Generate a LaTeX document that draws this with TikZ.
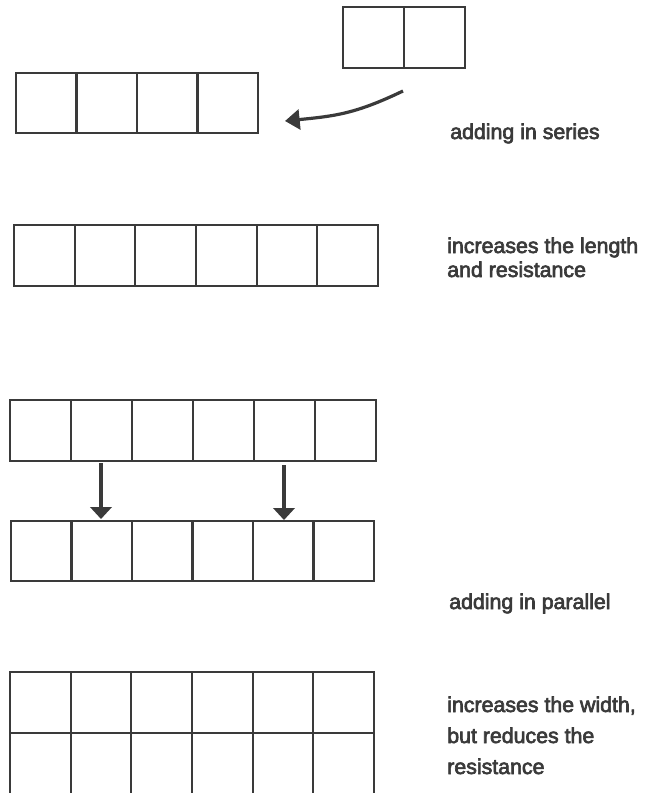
\documentclass[tikz,border=0pt]{standalone}
\usepackage{fontspec}
\setmainfont{Liberation Sans}
\newfontfamily\capfont[FakeBold=3]{Liberation Sans}
\usetikzlibrary{arrows.meta}
\definecolor{ink}{HTML}{3A3A3A}

% draw a strip of #6 equal cells between (#2,#3) and (#4,#5), named #1
\newcommand\cellstrip[6]{%
  \coordinate (#1-nw) at (#2,#3);
  \coordinate (#1-se) at (#4,#5);
  \draw[cellline] (#1-nw) rectangle (#1-se);
  \pgfmathtruncatemacro\lastdiv{#6-1}
  \foreach \k in {1,...,\lastdiv}{%
    \draw[cellline] ({#2+\k*(#4-#2)/#6},#3) -- ({#2+\k*(#4-#2)/#6},#5);
  }%
}

\tikzset{
  cellline/.style={draw=ink, line width=1.6pt, line join=miter},
  pusharrow/.style={draw=ink, line width=2.4pt,
    -{Triangle[length=11pt,width=15pt]}},
  droparrow/.style={draw=ink, line width=2.4pt,
    -{Triangle[length=9pt,width=16pt]}},
  caption/.style={anchor=base west, inner sep=0pt, text=ink,
    font=\capfont\fontsize{16}{24}\selectfont},
}

\begin{document}
\begin{tikzpicture}[x=0.75pt, y=-0.75pt]
  \useasboundingbox (0,0) rectangle (655,793);
  \clip (0,0) rectangle (655,793);

  % series: two cells joined onto a row of four
  \cellstrip{pair}{343}{7}{465}{68}{2}
  \cellstrip{four}{16}{73}{258}{133}{4}
  \coordinate (bend-from) at (403,91);
  \coordinate (bend-to) at (285,121);
  \draw[pusharrow] (bend-from) .. controls (355,114) and (335,116) .. (bend-to);
  \node[caption] (series) at (450,139) {adding in series};

  % result: a row of six
  \cellstrip{six}{14}{225}{378}{286}{6}
  \node[caption] (length1) at (447,253) {increases the length};
  \node[caption] (length2) at (447,277) {and resistance};

  % parallel: one row of six laid onto another
  \cellstrip{upper}{10}{400}{376}{461}{6}
  \cellstrip{lower}{11}{521}{374}{581}{6}
  \coordinate (dropA-from) at (101,463);
  \coordinate (dropA-to) at (101,519);
  \coordinate (dropB-from) at (284,465);
  \coordinate (dropB-to) at (284,520);
  \draw[droparrow] (dropA-from) -- (dropA-to);
  \draw[droparrow] (dropB-from) -- (dropB-to);
  \node[caption] (parallel) at (449,609) {adding in parallel};

  % result: two rows of six
  \cellstrip{double1}{10}{672}{374}{733}{6}
  \cellstrip{double2}{10}{733}{374}{800}{6}
  \node[caption] (width1) at (447,712) {increases the width,};
  \node[caption] (width2) at (447,743) {but reduces the};
  \node[caption] (width3) at (447,774) {resistance};
\end{tikzpicture}
\end{document}
